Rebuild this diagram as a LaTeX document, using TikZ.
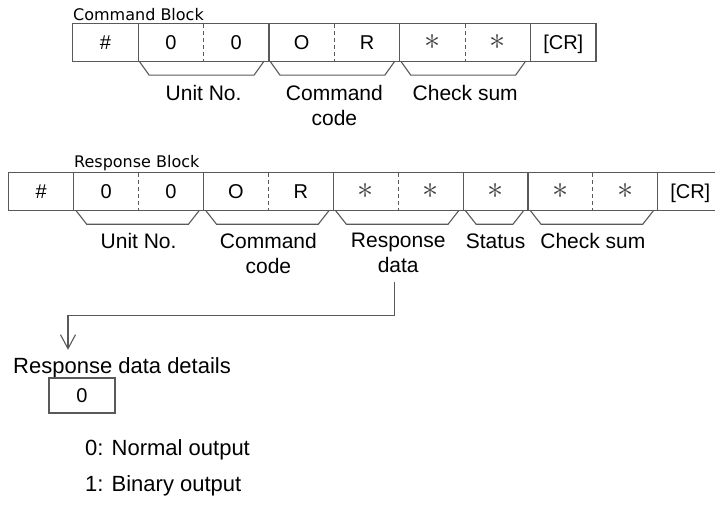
\documentclass[tikz,border=0pt]{standalone}
\usepackage{fontspec}
\setmainfont{Liberation Sans}
\newfontfamily\blockfont{DejaVu Sans}
\usepackage{tikz}
\usetikzlibrary{positioning, calc, arrows.meta}
\tikzstyle{cell} = [rectangle, minimum width=65pt, minimum height=37pt, inner sep=0pt, text height=14.5pt, text depth=0pt, text centered, font=\fontsize{20}{24}\selectfont]
\tikzstyle{rcell} = [cell, minimum width=64.5pt]
\tikzstyle{frame} = [draw=black!65, line width=1.1pt]
\tikzstyle{divider} = [draw=black!65, line width=1.1pt, dash pattern=on 4pt off 3pt]
\tikzstyle{field} = [inner sep=0pt, align=center, font=\fontsize{21}{24.5}\selectfont]
\tikzstyle{caption} = [inner sep=0pt, anchor=base west, font=\blockfont\fontsize{16}{19}\selectfont]
\tikzstyle{note} = [inner sep=0pt, anchor=base west, font=\fontsize{22}{26}\selectfont]
\tikzstyle{arrow} = [draw=black!65, line width=1.1pt, -{Straight Barb[length=14pt,width=15pt]}]
\newcommand{\cellstar}{\textcolor{black!75}{\scalebox{1.55}{$\ast$}}}

\begin{document}
\begin{tikzpicture}[x=1pt, y=-1pt]
\useasboundingbox (0,0) rectangle (715,511);
\clip (0,0) rectangle (715,511);

\node (ctitle) [caption] at (73,21) {Command Block};
\node (ch) [cell] at (105.5,42.5) {\#};
\node (cu1) [cell, right=0pt of ch] {0};
\node (cu2) [cell, right=0pt of cu1] {0};
\node (cc1) [cell, right=0pt of cu2] {O};
\node (cc2) [cell, right=0pt of cc1] {R};
\node (cs1) [cell, right=0pt of cc2] {\cellstar};
\node (cs2) [cell, right=0pt of cs1] {\cellstar};
\node (ccr) [cell, right=0pt of cs2] {[CR]};

\draw [frame] (ch.north west) rectangle (ccr.south east);
\foreach \n in {ch, cu2, cc2, cs2}
    \draw [frame] (\n.north east) -- (\n.south east);
\foreach \n in {cu1, cc1, cs1}
    \draw [divider] (\n.north east) -- (\n.south east);
\foreach \a/\b in {cu1/cu2, cc1/cc2, cs1/cs2}
    \draw [frame] ([xshift=1pt]\a.south west) -- ++(10,14) -- ([xshift=-15pt,yshift=-14pt]\b.south east) -- ([xshift=-5pt]\b.south east);

\node (cunit) [field, below=24pt of cu1.south east] {Unit No.};
\node (ccode) [field, below=24pt of cc1.south east] {Command\\code};
\node (csum) [field, below=24pt of cs1.south east] {Check sum};

\node (rtitle) [caption] at (74,167) {Response Block};
\node (rh) [rcell] at (41.25,191.5) {\#};
\node (ru1) [rcell, right=0pt of rh] {0};
\node (ru2) [rcell, right=0pt of ru1] {0};
\node (rc1) [rcell, right=0pt of ru2] {O};
\node (rc2) [rcell, right=0pt of rc1] {R};
\node (rd1) [rcell, right=0pt of rc2] {\cellstar};
\node (rd2) [rcell, right=0pt of rd1] {\cellstar};
\node (rst) [rcell, right=0pt of rd2] {\cellstar};
\node (rk1) [rcell, right=0pt of rst] {\cellstar};
\node (rk2) [rcell, right=0pt of rk1] {\cellstar};
\node (rcr) [rcell, right=0pt of rk2] {[CR]};

\draw [frame] (rh.north west) rectangle (rcr.south east);
\foreach \n in {rh, ru2, rc2, rd2, rst, rk2}
    \draw [frame] (\n.north east) -- (\n.south east);
\foreach \n in {ru1, rc1, rd1, rk1}
    \draw [divider] (\n.north east) -- (\n.south east);
\foreach \a/\b in {ru1/ru2, rc1/rc2, rd1/rd2, rst/rst, rk1/rk2}
    \draw [frame] ([xshift=2pt]\a.south west) -- ++(11,14) -- ([xshift=-15pt,yshift=-14pt]\b.south east) -- ([xshift=-4pt]\b.south east);

\node (runit) [field, below=23pt of ru1.south east] {Unit No.};
\node (rcode) [field, below=23pt of rc1.south east] {Command\\code};
\node (rdata) [field, below=23pt of rd1.south east] {Response\\data};
\node (rstat) [field, below=23pt of rst.south] {Status};
\node (rsum) [field, below=23pt of rk1.south east] {Check sum};

\node (detail) [note] at (13,373) {Response data details};
\node (dbox) [cell, draw=black!65, line width=1.1pt, minimum width=66pt, minimum height=35pt] at (82,395.5) {0};
\node (normal) [note] at (85,455) {0: Normal output};
\node (binary) [note] at (85,491) {1: Binary output};

\draw [arrow] ([xshift=-4pt,yshift=-9pt]rdata.south) |- ([xshift=55pt,yshift=41pt]detail.north west) -- ([xshift=55pt,yshift=7pt]detail.north west);
\end{tikzpicture}
\end{document}
